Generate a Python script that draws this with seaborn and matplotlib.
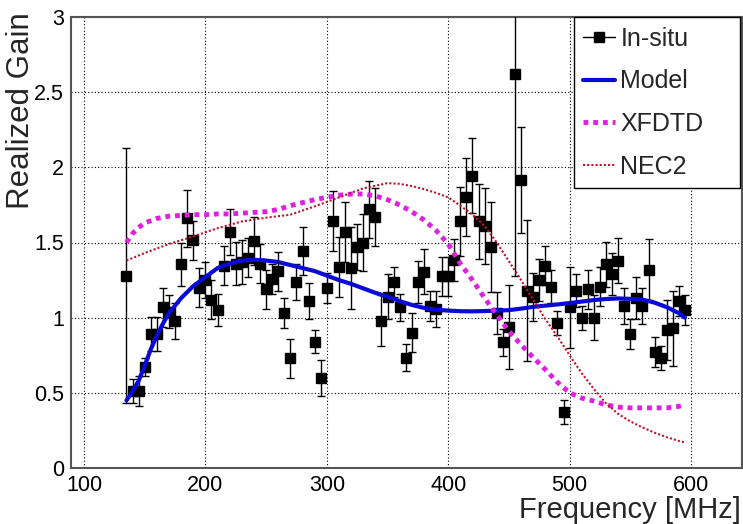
import numpy as np
import pandas as pd
import matplotlib
matplotlib.use('Agg')
import matplotlib.pyplot as plt
from matplotlib.lines import Line2D
from matplotlib.ticker import MultipleLocator, FixedLocator, FormatStrFormatter
import seaborn as sns

# In-situ measurement points (5 MHz steps)
insitu_freq = list(range(135, 600, 5))
insitu_gain = [1.28, 0.51, 0.51, 0.67, 0.89, 0.89, 1.07, 1.04, 0.98, 1.355,
               1.66, 1.515, 1.20, 1.25, 1.12, 1.05, 1.345, 1.57, 1.36, 1.37,
               1.40, 1.51, 1.36, 1.19, 1.26, 1.31, 1.03, 0.73, 1.235, 1.445,
               1.11, 0.84, 0.60, 1.195, 1.645, 1.335, 1.57, 1.33, 1.47, 1.50,
               1.72, 1.67, 0.98, 1.14, 1.235, 1.07, 0.735, 0.90, 1.235, 1.305,
               1.075, 1.055, 1.275, 1.275, 1.385, 1.64, 1.80, 1.945, 1.64, 1.61,
               1.47, 1.03, 0.835, 0.94, 2.62, 1.915, 1.18, 1.14, 1.25, 1.345,
               1.205, 0.965, 0.37, 1.07, 1.18, 1.00, 1.19, 1.00, 1.205, 1.355,
               1.29, 1.38, 1.08, 0.89, 1.13, 1.08, 1.32, 0.77, 0.73, 0.92,
               0.93, 1.11, 1.05]
insitu_err = [0.85, 0.08, 0.10, 0.06, 0.115, 0.115, 0.13, 0.11, 0.12, 0.145,
              0.19, 0.13, 0.13, 0.12, 0.13, 0.105, 0.13, 0.15, 0.145, 0.145,
              0.13, 0.16, 0.13, 0.13, 0.10, 0.13, 0.10, 0.13, 0.12, 0.16,
              0.12, 0.075, 0.12, 0.10, 0.20, 0.20, 0.20, 0.27, 0.15, 0.19,
              0.19, 0.19, 0.17, 0.15, 0.10, 0.09, 0.09, 0.13, 0.14, 0.15,
              0.10, 0.12, 0.13, 0.13, 0.14, 0.23, 0.26, 0.25, 0.25, 0.25,
              0.30, 0.14, 0.09, 0.28, 1.34, 0.35, 0.47, 0.16, 0.14, 0.13,
              0.11, 0.08, 0.08, 0.27, 0.11, 0.08, 0.13, 0.15, 0.13, 0.15,
              0.14, 0.15, 0.12, 0.10, 0.14, 0.12, 0.20, 0.10, 0.08, 0.20,
              0.25, 0.10, 0.10]

# Model curve
model_freq = [135, 140, 145, 150, 155, 160, 165, 170, 180, 190, 200, 210, 220, 230,
              240, 250, 260, 270, 280, 290, 300, 310, 320, 330, 340, 350, 360,
              370, 380, 390, 400, 410, 420, 430, 440, 450, 460, 470, 480, 490,
              500, 510, 520, 530, 540, 550, 560, 570, 580, 590, 595]
model_gain = [0.45, 0.51, 0.58, 0.68, 0.79, 0.88, 0.96, 1.03, 1.13, 1.21, 1.27, 1.33,
              1.36, 1.38, 1.385, 1.38, 1.37, 1.35, 1.33, 1.31, 1.28, 1.25, 1.225,
              1.195, 1.165, 1.14, 1.11, 1.085, 1.065, 1.053, 1.047, 1.043, 1.042,
              1.044, 1.047, 1.05, 1.06, 1.072, 1.08, 1.088, 1.097, 1.107, 1.117,
              1.124, 1.128, 1.125, 1.12, 1.10, 1.07, 1.03, 1.0]

# XFDTD simulation
xfdtd_freq = [135, 140, 145, 150, 160, 170, 180, 190, 200, 210, 220, 230, 240, 250,
              260, 270, 280, 290, 300, 310, 320, 330, 340, 350, 360, 370, 380,
              390, 400, 410, 420, 430, 440, 450, 460, 470, 480, 490, 500, 510,
              520, 530, 540, 550, 560, 570, 580, 590, 595]
xfdtd_gain = [1.50, 1.56, 1.60, 1.63, 1.66, 1.675, 1.68, 1.685, 1.685, 1.69, 1.69,
              1.695, 1.70, 1.705, 1.72, 1.745, 1.765, 1.785, 1.80, 1.815, 1.822,
              1.823, 1.81, 1.785, 1.75, 1.705, 1.65, 1.58, 1.49, 1.36, 1.25, 1.13,
              1.02, 0.91, 0.82, 0.735, 0.655, 0.57, 0.50, 0.465, 0.445, 0.42,
              0.405, 0.40, 0.40, 0.40, 0.40, 0.41, 0.42]

# NEC2 simulation
nec2_freq = [135, 150, 170, 190, 210, 230, 250, 270, 290, 310, 330, 350, 360, 370,
             380, 390, 400, 410, 420, 430, 440, 450, 460, 470, 480, 490, 500,
             510, 520, 530, 540, 550, 560, 570, 580, 590, 595]
nec2_gain = [1.38, 1.43, 1.49, 1.54, 1.595, 1.64, 1.665, 1.685, 1.74, 1.80, 1.86,
             1.895, 1.89, 1.875, 1.855, 1.83, 1.80, 1.745, 1.685, 1.61, 1.50,
             1.375, 1.25, 1.12, 0.99, 0.875, 0.75, 0.63, 0.525, 0.43, 0.36, 0.31,
             0.27, 0.235, 0.205, 0.18, 0.17]

model_df = pd.DataFrame({'freq': model_freq, 'gain': model_gain})
xfdtd_df = pd.DataFrame({'freq': xfdtd_freq, 'gain': xfdtd_gain})
nec2_df = pd.DataFrame({'freq': nec2_freq, 'gain': nec2_gain})

sns.set_theme(style='white')
plt.rcParams['font.family'] = ['Liberation Sans', 'DejaVu Sans']

fig = plt.figure(figsize=(7.43, 5.24), dpi=100)
ax = fig.add_axes([71 / 743, 56 / 524, 671 / 743, 451 / 524])

blue = '#0a0ad8'
magenta = '#e020e0'
nec_red = '#c8102a'

ax.errorbar(insitu_freq, insitu_gain, yerr=insitu_err, fmt='s', color='black',
            ms=6.5, ecolor='black', elinewidth=1, capsize=3, capthick=1, zorder=3)
sns.lineplot(data=model_df, x='freq', y='gain', color=blue, lw=3, ax=ax, zorder=4)
sns.lineplot(data=xfdtd_df, x='freq', y='gain', color=magenta, lw=3.5,
             linestyle=(0, (1.0, 1.0)), ax=ax, zorder=4)
sns.lineplot(data=nec2_df, x='freq', y='gain', color=nec_red, lw=1.5,
             linestyle=(0, (1, 1)), ax=ax, zorder=4)

ax.set_xlim(89.3, 642)
ax.set_ylim(0, 3)
ax.xaxis.set_major_locator(FixedLocator([100, 200, 300, 400, 500, 600]))
ax.xaxis.set_minor_locator(MultipleLocator(20))
ax.yaxis.set_major_locator(MultipleLocator(0.5))
ax.yaxis.set_minor_locator(MultipleLocator(0.1))
ax.yaxis.set_major_formatter(FormatStrFormatter('%g'))
ax.set_xlabel('')
ax.set_ylabel('')

ax.grid(True, which='major', color='black', lw=0.8, linestyle=(0, (1, 2)))
ax.tick_params(which='both', direction='in', color='#555555', width=1.2,
               top=False, right=False, labelsize=15.5, labelcolor='black')
ax.tick_params(which='major', length=9)
ax.tick_params(which='minor', length=5)
ax.tick_params(axis='x', pad=5)
ax.tick_params(axis='y', pad=5)
for s in ax.spines.values():
    s.set_color('#555555')
    s.set_linewidth(1.5)

handles = [Line2D([], [], color='black', marker='s', ms=6.5, lw=1),
           Line2D([], [], color=blue, lw=3),
           Line2D([], [], color=magenta, lw=3.5, linestyle=(0, (1.0, 1.0))),
           Line2D([], [], color=nec_red, lw=1.5, linestyle=(0, (1, 1)))]
leg = ax.legend(handles, ['In-situ', 'Model', 'XFDTD', 'NEC2'],
                loc='upper left', bbox_to_anchor=(0.7496, 0.6275, 0.2474, 0.3725),
                mode='expand', borderaxespad=0, fontsize=18, handlelength=1.28,
                handletextpad=0.2, labelspacing=0.75, borderpad=0.38,
                fancybox=False, framealpha=1, edgecolor='black')
leg.get_frame().set_linewidth(1.0)
leg.set_zorder(10)

fig.text(21 / 743, 1 - 12 / 524, 'Realized Gain', rotation=90, ha='center',
         va='top', fontsize=22.5)
fig.text(741 / 743, 1 - 518 / 524, 'Frequency [MHz]', ha='right',
         va='baseline', fontsize=21)

fig.savefig('out.png', dpi=100)
